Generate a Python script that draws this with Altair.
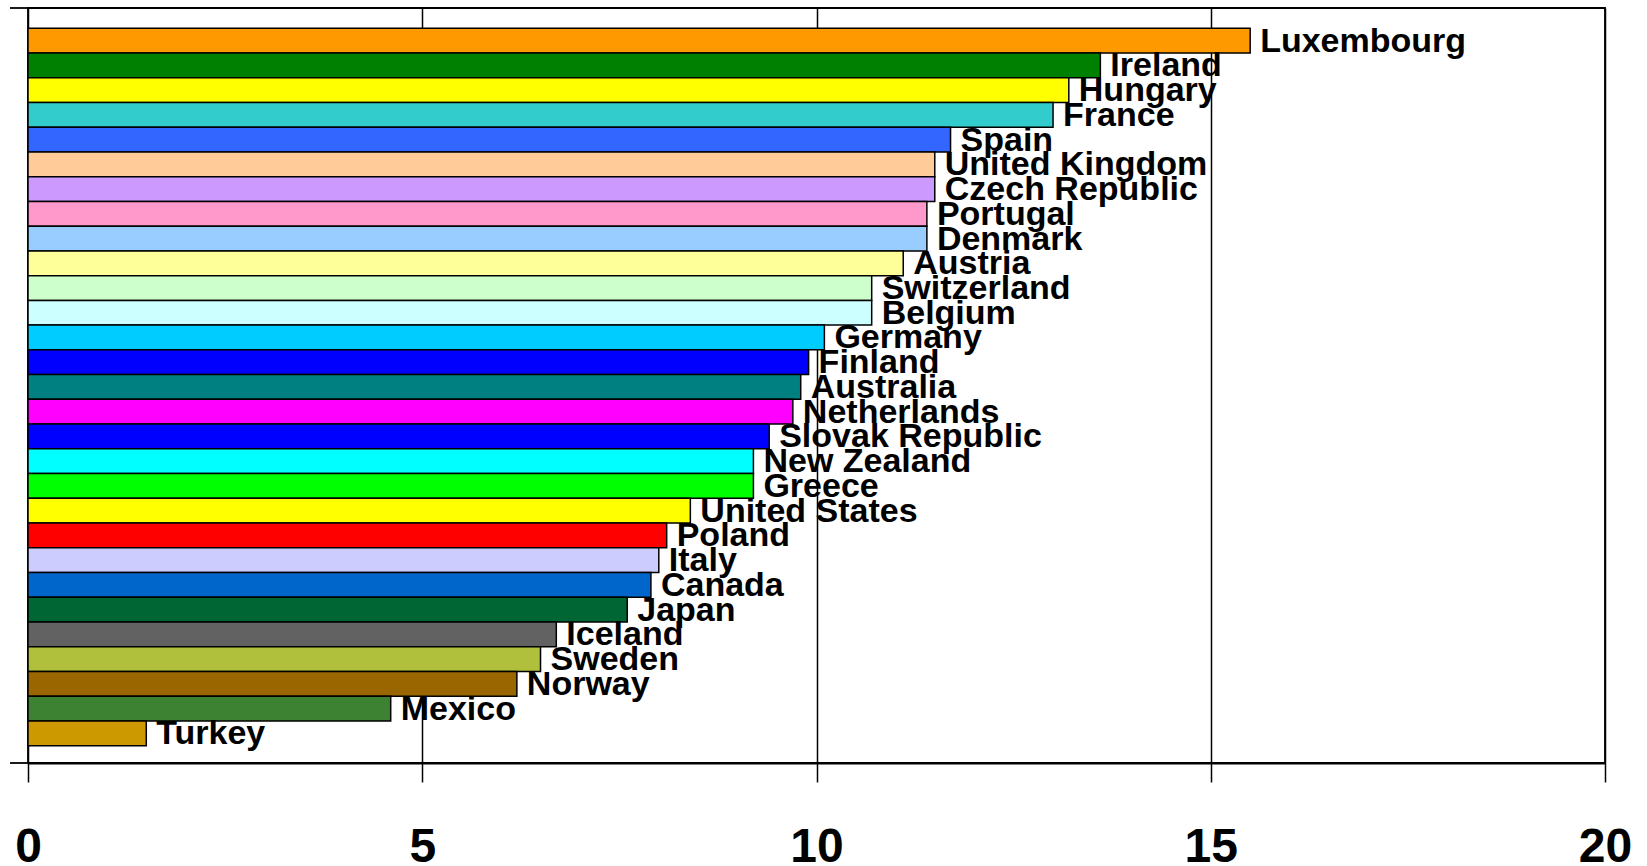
import altair as alt
import pandas as pd

countries = ["Luxembourg", "Ireland", "Hungary", "France", "Spain", "United Kingdom",
             "Czech Republic", "Portugal", "Denmark", "Austria", "Switzerland", "Belgium",
             "Germany", "Finland", "Australia", "Netherlands", "Slovak Republic",
             "New Zealand", "Greece", "United States", "Poland", "Italy", "Canada",
             "Japan", "Iceland", "Sweden", "Norway", "Mexico", "Turkey"]
values = [15.5, 13.6, 13.2, 13.0, 11.7, 11.5, 11.5, 11.4, 11.4, 11.1, 10.7, 10.7,
          10.1, 9.9, 9.8, 9.7, 9.4, 9.2, 9.2, 8.4, 8.1, 8.0, 7.9, 7.6, 6.7, 6.5,
          6.2, 4.6, 1.5]
colors = ["#FF9900", "#008000", "#FFFF00", "#33CCCC", "#3366FF", "#FFCC99",
          "#CC99FF", "#FF99CC", "#99CCFF", "#FFFF99", "#CCFFCC", "#CCFFFF",
          "#00CCFF", "#0000FF", "#008080", "#FF00FF", "#0000FF", "#00FFFF",
          "#00FF00", "#FFFF00", "#FF0000", "#CCCCFF", "#0066CC", "#006633",
          "#626262", "#B0BF3C", "#996600", "#3C8232", "#CC9900"]
x_ticks = [0, 5, 10, 15, 20]

df = pd.DataFrame({"country": countries, "value": values})

W, H = 1577, 755
FONT = "Liberation Sans"

y_enc = alt.Y("country:N", sort=countries, axis=None,
              scale=alt.Scale(paddingInner=0, paddingOuter=0.754, align=0.54))
x_enc = alt.X("value:Q",
              scale=alt.Scale(domain=[0, 20], nice=False, zero=True),
              axis=alt.Axis(values=x_ticks, format="d", title=None, grid=True,
                            gridColor="black", gridWidth=1.5, gridOpacity=1,
                            domainColor="black", domainWidth=1.8, tickColor="black",
                            tickWidth=1.5, tickSize=19, labelFont=FONT, labelFontSize=48,
                            labelFontWeight="bold", labelColor="black",
                            labelPadding=41, labelBaseline="top", labelAlign="center",
                            labelFlush=False, labelOverlap=False))

bars = alt.Chart(df).mark_bar(stroke="black", strokeWidth=1.5).encode(
    x=x_enc,
    y=y_enc,
    color=alt.Color("country:N", scale=alt.Scale(domain=countries, range=colors), legend=None),
)

labels = alt.Chart(df).mark_text(align="left", baseline="middle", dx=10, dy=1,
                                 font=FONT, fontSize=34, fontWeight="bold",
                                 color="black").encode(
    x=alt.X("value:Q"),
    y=alt.Y("country:N", sort=countries),
    text="country:N",
)

edge_df = pd.DataFrame({"pos": ["top", "bottom"], "yy": [0, H]})
edge_ticks = alt.Chart(edge_df).mark_rule(color="black", strokeWidth=1.8).encode(
    x=alt.value(-18), x2=alt.value(0), y=alt.Y("yy:Q", scale=None, axis=None)
)

chart = alt.layer(bars, labels, edge_ticks).properties(
    width=W, height=H,
    autosize=alt.AutoSizeParams(type="none"),
    padding={"left": 28, "top": 8, "right": 42, "bottom": 103},
    background="white",
).configure_view(stroke="black", strokeWidth=1.8)

chart.save("out.html", embed_options={"renderer": "svg", "actions": False})
